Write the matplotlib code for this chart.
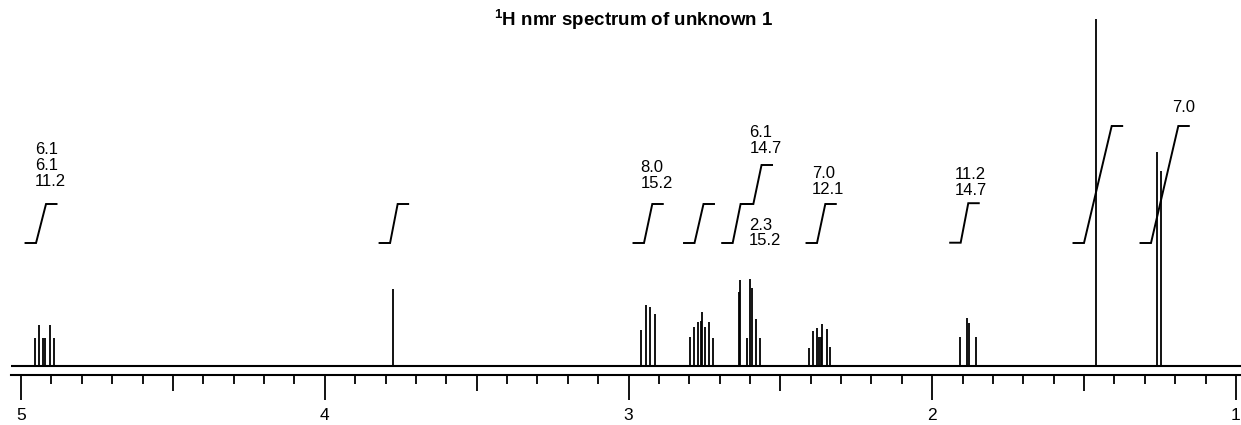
import matplotlib
matplotlib.use("Agg")
import matplotlib.pyplot as plt

plt.rcParams['font.family'] = ['Liberation Sans', 'DejaVu Sans']
plt.rcParams['mathtext.fontset'] = 'custom'
plt.rcParams['mathtext.rm'] = 'Liberation Sans'
plt.rcParams['mathtext.bf'] = 'Liberation Sans:bold'

# ---- data (chemical shift in ppm, peak heights in arbitrary units) ----
peak_ppm = [4.954, 4.941, 4.928, 4.921, 4.905, 4.892,
            3.774,
            2.959, 2.943, 2.930, 2.913,
            2.7975, 2.7843, 2.771, 2.7623, 2.757, 2.749, 2.736, 2.723,
            2.637, 2.633, 2.611, 2.600, 2.594, 2.580, 2.567,
            2.405, 2.394, 2.380, 2.374, 2.367, 2.362, 2.347, 2.336,
            1.9086, 1.8866, 1.879, 1.857,
            1.461,
            1.259, 1.246]
peak_height = [28, 41, 28, 28, 41, 28,
               77,
               35.7, 60.7, 58.7, 51.7,
               29, 39, 43.4, 44.7, 53.4, 39, 43.4, 27.4,
               73.4, 85.7, 27.4, 86.7, 77.4, 47, 28,
               17.4, 35, 38, 29, 29, 41.7, 36.4, 18.4,
               28.4, 47.7, 42.4, 28.4,
               346.4,
               214, 195]

# integrals: ppm where the step starts / ends, level before the step, step size
int_start = [4.9506, 3.785, 2.949, 2.7827, 2.657, 2.589, 2.3794, 1.9064, 1.5004, 1.2798]
int_end = [4.9177, 3.760, 2.9217, 2.7531, 2.631, 2.562, 2.3521, 1.8814, 1.4092, 1.1899]
int_base = [122.7, 122.7, 122.7, 122.7, 122.7, 161.7, 122.7, 123.0, 122.7, 122.7]
int_step = [39, 39, 39, 39, 39, 39, 39, 39.5, 117, 117]

int_labels = ["6.1\n6.1\n11.2", "8.0\n15.2", "6.1\n14.7", "2.3\n15.2",
              "7.0\n12.1", "11.2\n14.7", "7.0"]
# label anchor (left edge ppm, vertical centre)
int_label_pos = [(4.954, 200.4), (2.9598, 190.4), (2.6023, 224.9), (2.6033, 132.7),
                 (2.3969, 184.0), (1.9251, 183.2), (1.2107, 257.7)]

major_ticks = [5, 4, 3, 2, 1]
major_labels = ["5", "4", "3", "2", "1"]
half_ticks = [4.5, 3.5, 2.5, 1.5]
minor_ticks = [round(5 - 0.1 * i, 1) for i in range(41) if i % 5 != 0]

title = r"$\mathbf{^1}$H nmr spectrum of unknown 1"

# ---- figure ----
W, H = 1241, 425
fig = plt.figure(figsize=(W / 100, H / 100), dpi=100)
ax_left_px, ax_bottom_px = 11, 374.7
ax = fig.add_axes([ax_left_px / W, (H - ax_bottom_px) / H,
                   (W - ax_left_px) / W, ax_bottom_px / H])
ax.set_xlim(5.033, 0.9835)
ax.set_ylim(-9, 365.7)

for s in ['top', 'left', 'right']:
    ax.spines[s].set_visible(False)
ax.spines['bottom'].set_linewidth(1.5)
ax.set_yticks([])

# baseline
ax.axhline(0, color='black', lw=1.5)

# peaks
ax.vlines(peak_ppm, 0, peak_height, colors='black', lw=1.3)

# integral curves
flat = 10.5 / 303.75
for s, e, b, st in zip(int_start, int_end, int_base, int_step):
    ax.plot([s + flat, s, e, e - flat], [b, b, b + st, b + st],
            color='black', lw=1.4, solid_joinstyle='miter')

# integral labels
for txt, (x, y) in zip(int_labels, int_label_pos):
    ax.text(x, y, txt, ha='left', va='center', fontsize=12, linespacing=1.08)

# ticks
ax.set_xticks(major_ticks)
ax.set_xticklabels(major_labels)
ax.set_xticks(minor_ticks, minor=True)
ax.tick_params(axis='x', which='major', direction='out', length=18, width=1.3,
               labelsize=12.5, pad=6)
ax.tick_params(axis='x', which='minor', direction='out', length=6.3, width=1.3)

sec = ax.secondary_xaxis('bottom')
sec.set_xticks(half_ticks)
sec.tick_params(axis='x', which='major', direction='out', length=11.5, width=1.3,
                labelbottom=False)
sec.tick_params(axis='x', which='minor', bottom=False)
sec.spines['bottom'].set_visible(False)

fig.text(634 / W, 1 - 20 / H, title, ha='center', va='center',
         fontsize=13.5, fontweight='bold')

fig.savefig("out.png", dpi=100)
